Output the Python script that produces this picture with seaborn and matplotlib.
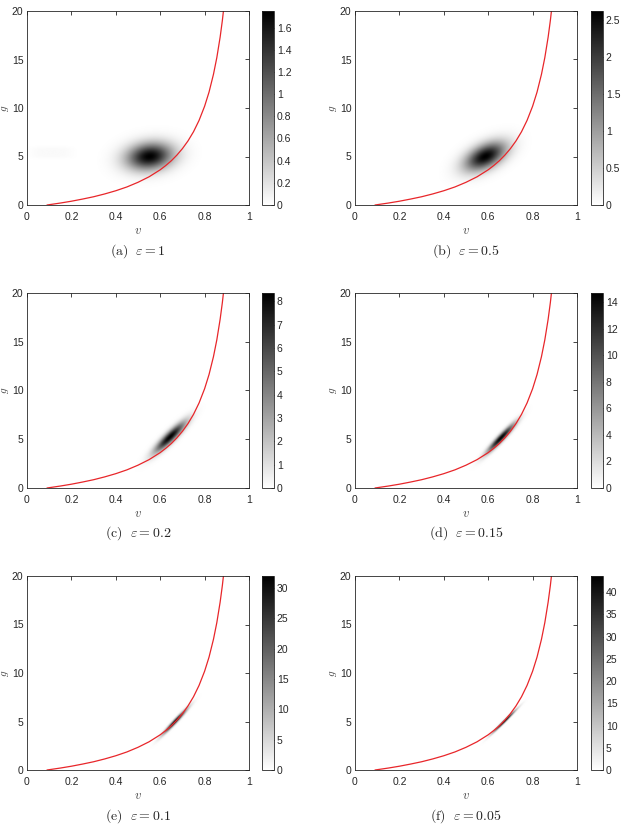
import numpy as np
import pandas as pd
import matplotlib
matplotlib.use("Agg")
import matplotlib.pyplot as plt
import seaborn as sns

# panel labels and epsilon values
panel_letters = ["a", "b", "c", "d", "e", "f"]
eps_labels = ["1", "0.5", "0.2", "0.15", "0.1", "0.05"]

# density blob (centre, spread, tilt, peak)
blob_v = [0.55, 0.585, 0.642, 0.655, 0.665, 0.67]
blob_g = [5.0, 5.0, 5.2, 5.1, 5.0, 5.0]
blob_sv = [0.07, 0.062, 0.047, 0.042, 0.035, 0.033]
blob_sg = [0.95, 1.0, 1.05, 1.0, 0.85, 0.75]
blob_rho = [0.15, 0.5, 0.9, 0.95, 0.975, 0.988]
peak_density = [1.75, 2.62, 8.35, 14.7, 32.0, 43.6]

# faint plateau on the left of panel (a)
shoulder_v, shoulder_g = 0.11, 5.4
shoulder_sv, shoulder_sg, shoulder_peak = 0.08, 0.5, 0.04

# colorbar ticks per panel
cbar_ticks = [
    [0, 0.2, 0.4, 0.6, 0.8, 1, 1.2, 1.4, 1.6],
    [0, 0.5, 1, 1.5, 2, 2.5],
    [0, 1, 2, 3, 4, 5, 6, 7, 8],
    [0, 2, 4, 6, 8, 10, 12, 14],
    [0, 5, 10, 15, 20, 25, 30],
    [0, 5, 10, 15, 20, 25, 30, 35, 40],
]

# red curve, points
curve_v = [0.09, 0.15, 0.2, 0.25, 0.3, 0.35, 0.4, 0.45, 0.5, 0.55, 0.6,
           0.625, 0.65, 0.675, 0.7, 0.725, 0.75, 0.775, 0.8, 0.82, 0.84,
           0.855, 0.87, 0.88, 0.89]
curve_g = [0.0, 0.20, 0.39, 0.61, 0.85, 1.14, 1.47, 1.86, 2.34, 2.91, 3.63,
           4.07, 4.56, 5.14, 5.81, 6.60, 7.55, 8.72, 10.18, 11.64, 13.48,
           15.19, 17.31, 19.02, 21.05]
curve = pd.DataFrame({"v": curve_v, "g": curve_g})

sns.set_style("white")
plt.rcParams["font.family"] = ["Liberation Sans", "DejaVu Sans"]
plt.rcParams["mathtext.fontset"] = "cm"

fig = plt.figure(figsize=(6.25, 8.26), dpi=100)

W, H = 625.0, 826.0
col_x = [27, 355]
cbar_x = [262, 591]
row_y = [(11, 205), (293, 488), (576, 770)]
cap_y = [251, 533, 816]

vv, gg = np.meshgrid(np.linspace(0, 1, 500), np.linspace(0, 20, 500))
axcol = "#262626"

for i in range(6):
    r, c = divmod(i, 2)
    top, bot = row_y[r]
    ax = fig.add_axes([col_x[c] / W, 1 - bot / H, 222 / W, (bot - top) / H])
    cax = fig.add_axes([cbar_x[c] / W, 1 - bot / H, 12 / W, (bot - top) / H])

    u = (vv - blob_v[i]) / blob_sv[i]
    w = (gg - blob_g[i]) / blob_sg[i]
    rho = blob_rho[i]
    dens = peak_density[i] * np.exp(-(u**2 - 2 * rho * u * w + w**2) / (2 * (1 - rho**2)))
    if i == 0:
        dens += shoulder_peak * np.exp(-((vv - shoulder_v) / shoulder_sv)**4 / 2
                                       - ((gg - shoulder_g) / shoulder_sg)**4 / 2)

    im = ax.imshow(dens, extent=[0, 1, 0, 20], origin="lower", aspect="auto",
                   cmap="gray_r", vmin=0, vmax=peak_density[i], interpolation="bilinear")
    sns.lineplot(data=curve, x="v", y="g", ax=ax, color="#e8262a", lw=0.9,
                 sort=False, estimator=None)

    ax.set_xlim(0, 1)
    ax.set_ylim(0, 20)
    ax.set_xticks([0, 0.2, 0.4, 0.6, 0.8, 1])
    ax.set_xticklabels(["0", "0.2", "0.4", "0.6", "0.8", "1"])
    ax.set_yticks([0, 5, 10, 15, 20])
    ax.tick_params(direction="in", length=3, width=0.6, labelsize=7.5, colors=axcol,
                   top=True, right=True)
    ax.tick_params(axis="x", pad=5)
    ax.tick_params(axis="y", pad=2.5)
    for s in ax.spines.values():
        s.set_color(axcol)
        s.set_linewidth(0.6)
    ax.set_xlabel("$v$", fontsize=9, color="#444444", labelpad=2)
    ax.set_ylabel("$g$", fontsize=8, color="#444444")
    ax.yaxis.set_label_coords(-0.07, 0.5)

    cb = fig.colorbar(im, cax=cax)
    cb.set_ticks(cbar_ticks[i])
    cb.set_ticklabels([str(t) for t in cbar_ticks[i]])
    cax.tick_params(direction="in", length=2.5, width=0.6, labelsize=7.5, colors=axcol, pad=2)
    cb.outline.set_edgecolor(axcol)
    cb.outline.set_linewidth(0.6)

    cx = (col_x[c] + 222 / 2) / W
    fig.text(cx, 1 - cap_y[r] / H,
             r"$\mathrm{(%s)}\ \ \varepsilon = %s$" % (panel_letters[i], eps_labels[i]),
             ha="center", va="center", fontsize=10)

fig.savefig("out.png", dpi=100)
